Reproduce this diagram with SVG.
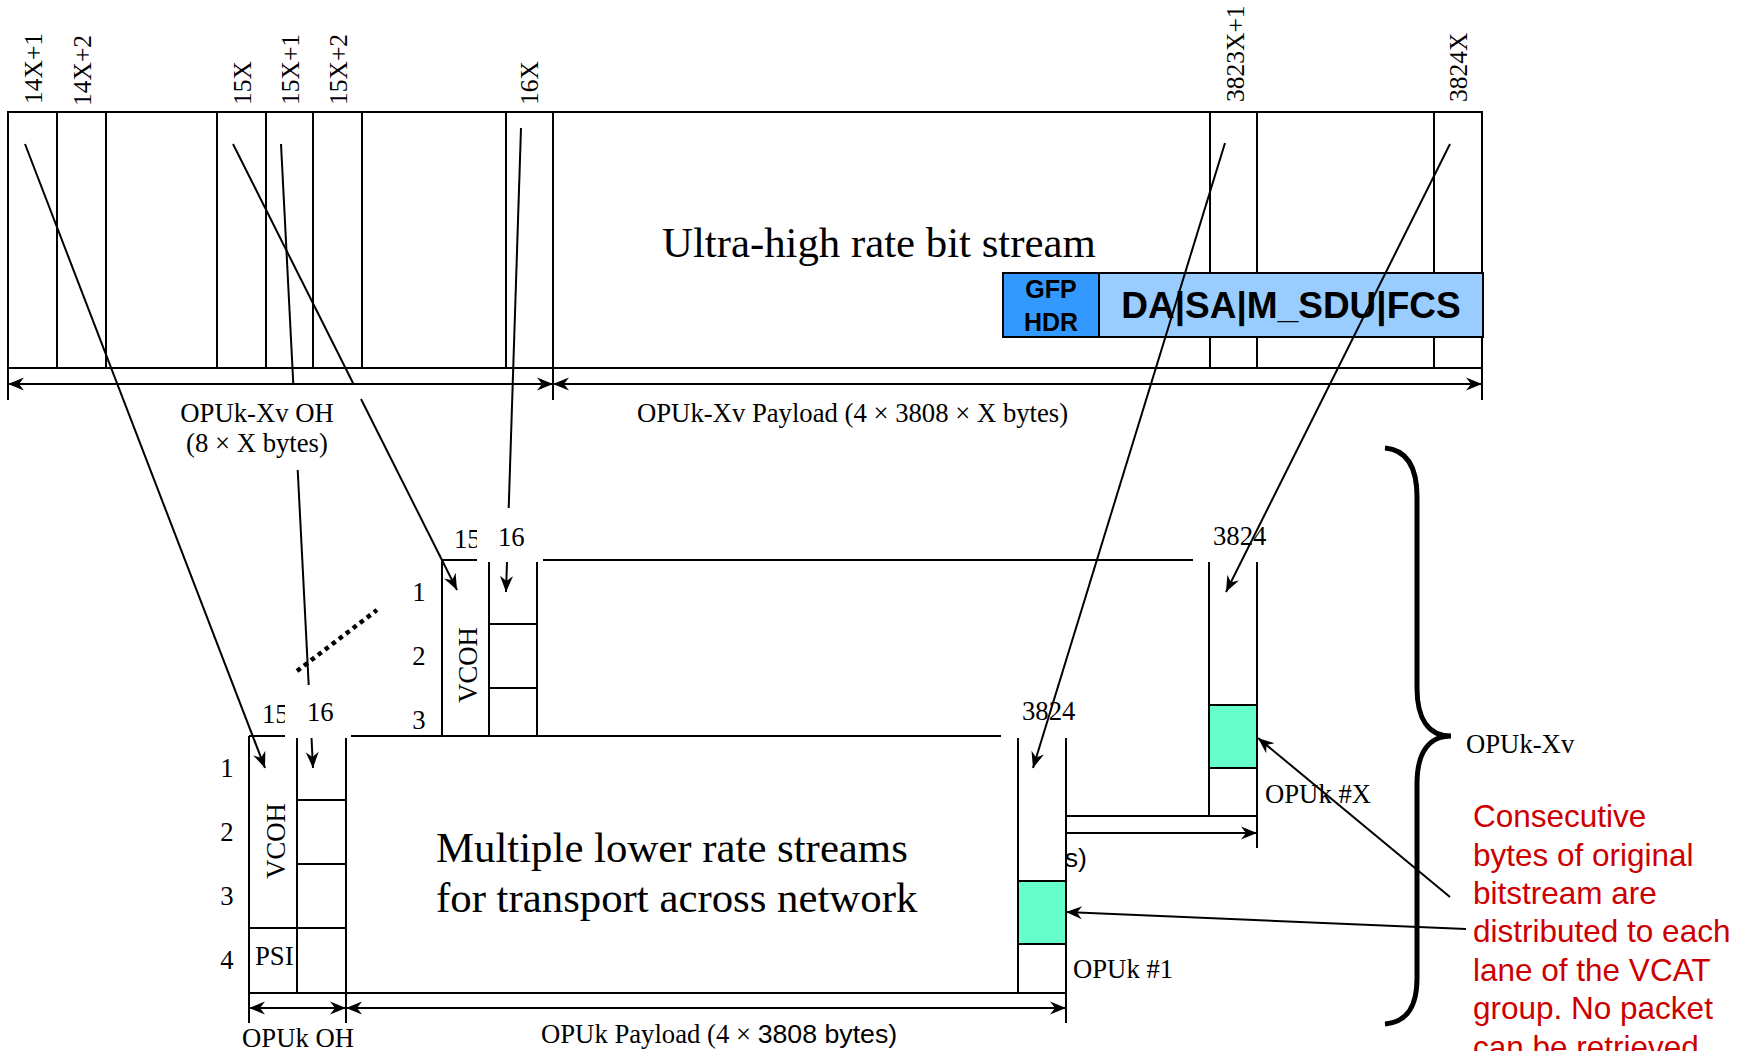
<svg xmlns="http://www.w3.org/2000/svg" width="1746" height="1051" viewBox="0 0 1746 1051">
<defs>
<marker id="ah" markerUnits="userSpaceOnUse" markerWidth="18" markerHeight="16" viewBox="-17 -8 18 16" refX="0" refY="0" orient="auto-start-reverse"><path d="M0,0 L-16,-6.5 L-11,0 L-16,6.5 Z" fill="#000"/></marker>
</defs>
<style>
.ln{stroke:#000;stroke-width:2;fill:none}
.cn{stroke:#000;stroke-width:2;fill:none}
.ar{marker-end:url(#ah)}
.dim{stroke:#000;stroke-width:2;fill:none;marker-start:url(#ah);marker-end:url(#ah)}
.t{font-family:"Liberation Serif","Times New Roman",serif;font-size:26.7px;fill:#000}
.big{font-family:"Liberation Serif","Times New Roman",serif;font-size:42.8px;fill:#000}
.rot{font-family:"Liberation Serif","Times New Roman",serif;font-size:25.5px;fill:#000}
.sans{font-family:"Liberation Sans",Arial,sans-serif}
.gfp{font-family:"Liberation Sans",Arial,sans-serif;font-weight:bold;fill:#000}
.red{font-family:"Liberation Sans",Arial,sans-serif;font-size:31.5px;fill:#CC0000}
.grn{fill:#66FFCC;stroke:#000;stroke-width:2}
</style>

<g id="ultra-high-rate-frame">
<rect x="8" y="112" width="1474" height="256" class="ln"/>
<path class="ln" d="M57,112V368 M106,112V368 M217,112V368 M266,112V368 M313,112V368 M362,112V368 M506,112V368 M553,112V400 M1210,112V368 M1257,112V368 M1434,112V368 M8,368V400 M1482,368V400"/>
<line class="dim" x1="8" y1="384" x2="553" y2="384"/>
<line class="dim" x1="553" y1="384" x2="1482" y2="384"/>
<text class="rot" transform="translate(41.5,104) rotate(-90)">14X+1</text>
<text class="rot" transform="translate(90.5,106) rotate(-90)">14X+2</text>
<text class="rot" transform="translate(251,105) rotate(-90)">15X</text>
<text class="rot" transform="translate(299,105) rotate(-90)">15X+1</text>
<text class="rot" transform="translate(347,105) rotate(-90)">15X+2</text>
<text class="rot" transform="translate(538,105) rotate(-90)">16X</text>
<text class="rot" transform="translate(1244,102) rotate(-90)">3823X+1</text>
<text class="rot" transform="translate(1467,102) rotate(-90)">3824X</text>
<text class="big" x="662" y="257">Ultra-high rate bit stream</text>
<text class="t" x="257" y="422" text-anchor="middle">OPUk-Xv OH</text>
<text class="t" x="257" y="452" text-anchor="middle">(8 × X bytes)</text>
<text class="t" x="637" y="422">OPUk-Xv Payload (4 × 3808 × X bytes)</text>
</g>

<g id="gfp-frame">
<rect x="1003" y="273" width="96" height="64" fill="#3399FF" stroke="#000" stroke-width="2"/>
<rect x="1099" y="273" width="384" height="64" fill="#99CCFF" stroke="#000" stroke-width="2"/>
<text class="gfp" x="1051" y="298" font-size="25" text-anchor="middle">GFP</text>
<text class="gfp" x="1051" y="331" font-size="25" text-anchor="middle">HDR</text>
<text class="gfp" x="1291" y="318" font-size="37" text-anchor="middle">DA|SA|M_SDU|FCS</text>
</g>

<g id="opuk-x">
<path class="ln" d="M442,560H477 M543,560H1193 M442,560V736 M489,562V736 M537,562V736 M489,624H537 M489,688H537 M1209,562V816 M1257,562V848 M1066,816H1257"/>
<rect x="1209" y="705" width="48" height="63" class="grn"/>
<line class="ln ar" x1="1066" y1="833" x2="1257" y2="833"/>
<text class="t" transform="translate(477,665) rotate(-90)" text-anchor="middle">VCOH</text>
<text class="t" x="454" y="548">15</text>
<rect x="477" y="515" width="20" height="40" fill="#fff"/>
<text class="t" x="498" y="546">16</text>
<text class="t" x="1213" y="545">3824</text>
<text class="t" x="419" y="601" text-anchor="middle">1</text>
<text class="t" x="419" y="665" text-anchor="middle">2</text>
<text class="t" x="419" y="729" text-anchor="middle">3</text>
<text class="t" x="1265" y="803">OPUk #X</text>
<text class="t sans" x="1087" y="867" text-anchor="end">s)</text>
</g>

<g id="opuk-1">
<path class="ln" d="M249,736H285 M351,736H1001 M249,736V1023 M297,738V993 M346,738V1023 M297,800H346 M297,864H346 M249,928H346 M249,993H1066 M1018,738V993 M1066,738V1023"/>
<rect x="1018" y="881" width="48" height="63" class="grn"/>
<line class="dim" x1="249" y1="1008" x2="346" y2="1008"/>
<line class="dim" x1="346" y1="1008" x2="1066" y2="1008"/>
<text class="t" transform="translate(285,841) rotate(-90)" text-anchor="middle">VCOH</text>
<text class="t" x="255" y="965">PSI</text>
<text class="t" x="262" y="723">15</text>
<rect x="285" y="690" width="20" height="40" fill="#fff"/>
<text class="t" x="307" y="721">16</text>
<text class="t" x="1022" y="720">3824</text>
<text class="t" x="227" y="777" text-anchor="middle">1</text>
<text class="t" x="227" y="841" text-anchor="middle">2</text>
<text class="t" x="227" y="905" text-anchor="middle">3</text>
<text class="t" x="227" y="969" text-anchor="middle">4</text>
<text class="t" x="1073" y="978">OPUk #1</text>
<text class="t" x="298" y="1047" text-anchor="middle">OPUk OH</text>
<text class="t" x="541" y="1043">OPUk Payload (4 × <tspan class="sans">3808 bytes)</tspan></text>
<text class="big" x="436" y="862">Multiple lower rate streams</text>
<text class="big" x="436" y="912">for transport across network</text>
</g>

<g id="vcat-brace">
<path d="M1385,448 C1408,450 1417,468 1417,497 L1417,688 C1417,718 1428,736 1451,736 C1428,736 1417,754 1417,784 L1417,978 C1417,1006 1408,1022 1385,1024" fill="none" stroke="#000" stroke-width="5"/>
<text class="t" x="1466" y="753">OPUk-Xv</text>
</g>

<g id="note">
<text class="red"><tspan x="1473" y="827">Consecutive</tspan><tspan x="1473" y="866">bytes of original</tspan><tspan x="1473" y="904">bitstream are</tspan><tspan x="1473" y="942">distributed to each</tspan><tspan x="1473" y="981">lane of the VCAT</tspan><tspan x="1473" y="1019">group. No packet</tspan><tspan x="1473" y="1058">can be retrieved</tspan></text>
</g>

<g id="connectors">
<line class="cn ar" x1="25" y1="144" x2="265" y2="768"/>
<line class="cn" x1="233" y1="144" x2="353.5" y2="384"/>
<line class="cn ar" x1="361" y1="399" x2="457" y2="590"/>
<line class="cn" x1="281" y1="144" x2="293.3" y2="384"/>
<line class="cn" x1="297.7" y1="470" x2="308.7" y2="685"/>
<line class="cn ar" x1="311.5" y1="738" x2="313" y2="768"/>
<line class="cn" x1="521" y1="128" x2="508.7" y2="508"/>
<line class="cn ar" x1="507" y1="562" x2="506" y2="592"/>
<line class="cn ar" x1="1225" y1="143" x2="1033" y2="768"/>
<line class="cn ar" x1="1450" y1="144" x2="1226" y2="592"/>
<line class="cn ar" x1="1450" y1="897" x2="1258" y2="738"/>
<line class="cn ar" x1="1466" y1="929" x2="1066" y2="912"/>
<line x1="297" y1="671" x2="377" y2="610" stroke="#000" stroke-width="4.5" stroke-dasharray="4.5 4.3"/>
</g>
</svg>
